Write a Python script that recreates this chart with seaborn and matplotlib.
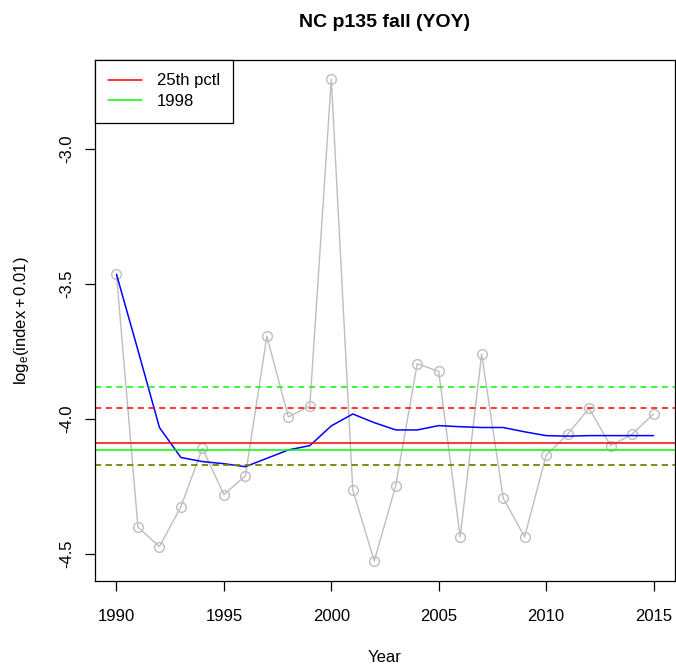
import matplotlib
matplotlib.use("Agg")
import matplotlib.pyplot as plt
import seaborn as sns
import pandas as pd
from matplotlib.lines import Line2D

years = list(range(1990, 2016))
index_log = [-3.464, -4.400, -4.472, -4.324, -4.108, -4.279, -4.210, -3.693, -3.992, -3.951,
             -2.742, -4.262, -4.525, -4.246, -3.795, -3.823, -4.436, -3.759, -4.292, -4.436,
             -4.134, -4.056, -3.960, -4.098, -4.056, -3.981]
smoothed = [-3.464, -3.745, -4.031, -4.142, -4.157, -4.165, -4.176, -4.145, -4.114, -4.098,
            -4.025, -3.981, -4.013, -4.040, -4.040, -4.024, -4.028, -4.031, -4.031, -4.047,
            -4.061, -4.063, -4.061, -4.061, -4.061, -4.061]

pctl25 = -4.089
pctl25_upper = -3.960
pctl25_lower = -4.168
ref_1998 = -4.114
ref_1998_upper = -3.880
ref_1998_lower = -4.168

legend_labels = ["25th pctl", "1998"]

df = pd.DataFrame({"Year": years, "index": index_log, "smooth": smoothed})

sns.set_style("ticks")
plt.rcParams["font.family"] = ["Liberation Sans", "DejaVu Sans"]
plt.rcParams["mathtext.fontset"] = "custom"
plt.rcParams["mathtext.rm"] = "Liberation Sans"
plt.rcParams["mathtext.it"] = "Liberation Sans"
plt.rcParams["text.color"] = "black"
plt.rcParams["axes.labelcolor"] = "black"
plt.rcParams["xtick.color"] = "black"
plt.rcParams["ytick.color"] = "black"

fig = plt.figure(figsize=(6.76, 6.66), dpi=100)
ax = fig.add_axes([95 / 676, 1 - 581 / 666, 580 / 676, 521 / 666])

sns.lineplot(data=df, x="Year", y="index", ax=ax, color="#BEBEBE", lw=1.0,
             marker="o", markersize=7, markerfacecolor="none",
             markeredgecolor="#BEBEBE", markeredgewidth=1.0)
sns.lineplot(data=df, x="Year", y="smooth", ax=ax, color="blue", lw=1.1)

ax.axhline(pctl25, color="red", lw=1.1)
ax.axhline(pctl25_upper, color="red", lw=1.1, ls=(0, (4, 3)))
ax.axhline(pctl25_lower, color="red", lw=1.1, ls=(0, (4, 3)))
ax.axhline(ref_1998, color="#00FF00", lw=1.1)
ax.axhline(ref_1998_upper, color="#00FF00", lw=1.1, ls=(0, (4, 3)))
ax.axhline(ref_1998_lower, color="#22CC00", lw=1.1, ls=(0, (4, 3)), alpha=0.8)

ax.set_xlim(1989, 2016)
ax.set_ylim(-4.599, -2.671)
ax.set_xticks([1990, 1995, 2000, 2005, 2010, 2015])
ax.set_yticks([-3.0, -3.5, -4.0, -4.5])
ax.set_yticklabels(["-3.0", "-3.5", "-4.0", "-4.5"], rotation=90, va="center")
ax.tick_params(labelsize=12, length=7, direction="out", width=0.9)
ax.tick_params(axis="x", pad=13)
ax.tick_params(axis="y", pad=8)
for s in ax.spines.values():
    s.set_visible(True)
    s.set_color("black")
    s.set_linewidth(0.9)

ax.set_xlabel("Year", fontsize=12, labelpad=19)
ax.set_ylabel(r"$\mathrm{log_e}(\mathrm{index} + 0.01)$", fontsize=12, labelpad=20)
ax.set_title("NC p135 fall (YOY)", fontsize=14, fontweight="bold", pad=24)

handles = [Line2D([], [], color="red", lw=1.1), Line2D([], [], color="#00FF00", lw=1.1)]
leg = ax.legend(handles, legend_labels, loc="upper left", borderaxespad=0,
                fancybox=False, framealpha=1, edgecolor="black", fontsize=12,
                handlelength=2.0, handletextpad=0.9, borderpad=0.8, labelspacing=0.35)
leg.get_frame().set_linewidth(0.9)

fig.savefig("out.png", dpi=100)
